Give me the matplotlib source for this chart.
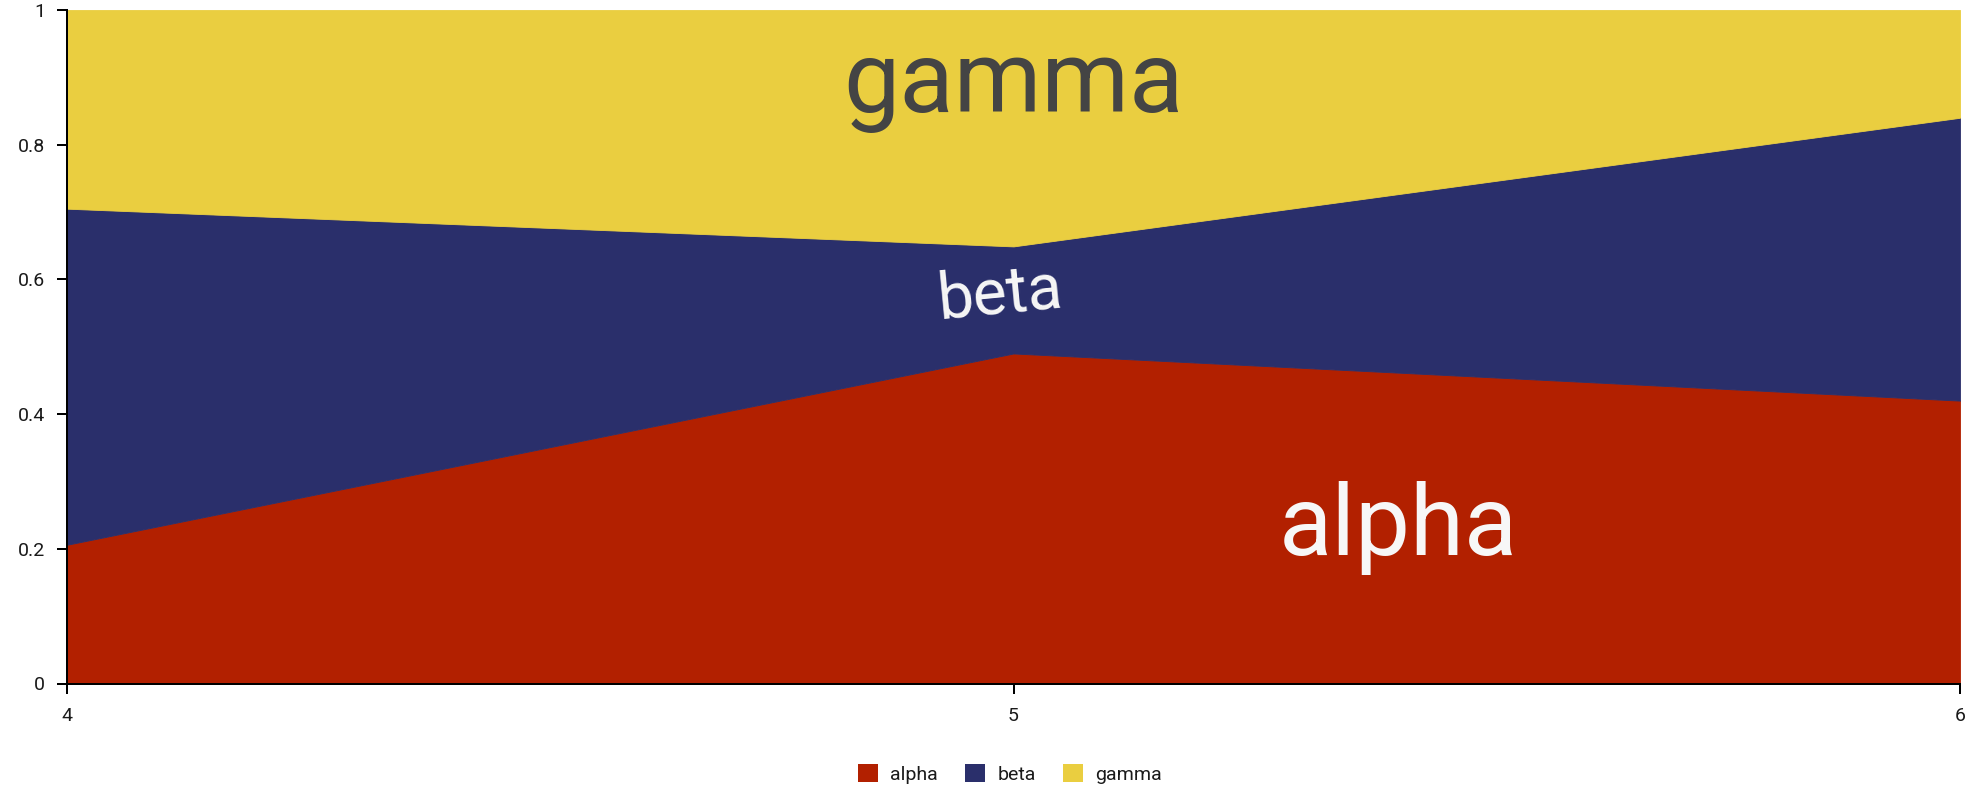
import matplotlib
matplotlib.use("Agg")
import matplotlib.pyplot as plt
from matplotlib.patches import Patch

# Data
x_vals = [4, 5, 6]
series_names = ["alpha", "beta", "gamma"]
alpha_vals = [0.206, 0.49, 0.42]
beta_vals = [0.499, 0.159, 0.42]
gamma_vals = [0.295, 0.351, 0.16]
y_ticks = [0, 0.2, 0.4, 0.6, 0.8, 1.0]
y_tick_labels = ["0", "0.2", "0.4", "0.6", "0.8", "1"]
x_tick_labels = ["4", "5", "6"]

colors = ["#B22000", "#2A2F6B", "#EACE40"]

plt.rcParams['font.family'] = ['Roboto', 'DejaVu Sans']

W, H = 1980, 800
fig = plt.figure(figsize=(W / 100, H / 100), dpi=100)
left, right, bottom, top = 67, 1960, 683.5, 10
ax = fig.add_axes([left / W, 1 - bottom / H, (right - left) / W, (bottom - top) / H])

polys = ax.stackplot(x_vals, alpha_vals, beta_vals, gamma_vals, colors=colors,
                     linewidth=0.6)
for p, c in zip(polys, colors):
    p.set_edgecolor(c)

ax.set_xlim(4, 6)
ax.set_ylim(0, 1)
ax.set_xticks(x_vals)
ax.set_xticklabels(x_tick_labels)
ax.set_yticks(y_ticks)
ax.set_yticklabels(y_tick_labels)

for s in ["top", "right"]:
    ax.spines[s].set_visible(False)
for s in ["left", "bottom"]:
    ax.spines[s].set_linewidth(1.44)
    ax.spines[s].set_color("black")
    ax.spines[s].set_zorder(5)

ax.tick_params(axis='both', length=7.2, width=1.44, color='black',
               labelsize=14, labelcolor='#1a1a1a')
ax.tick_params(axis='y', pad=8.5)
ax.tick_params(axis='x', pad=9.5)

# In-area labels
ax.text(5.0, 0.8486, "gamma", ha='center', va='baseline', fontsize=72,
        color='#444444')
ax.text(5.407, 0.1908, "alpha", ha='center', va='baseline', fontsize=70.5,
        color='#F7F7F7')
ax.text(4.986, 0.577, "beta", ha='center', va='center', fontsize=46,
        color='#F7F7F7', rotation=5.5, rotation_mode='anchor')

handles = [Patch(facecolor=c, edgecolor='none', label=n) for c, n in zip(colors, series_names)]
fig.legend(handles=handles, loc='center', bbox_to_anchor=(1010 / W, 1 - 774 / H),
           ncol=3, frameon=False, fontsize=14, handlelength=1.03, handleheight=1.03,
           handletextpad=0.62, columnspacing=1.4, labelcolor='#1a1a1a')

fig.savefig("out.png", dpi=100)
